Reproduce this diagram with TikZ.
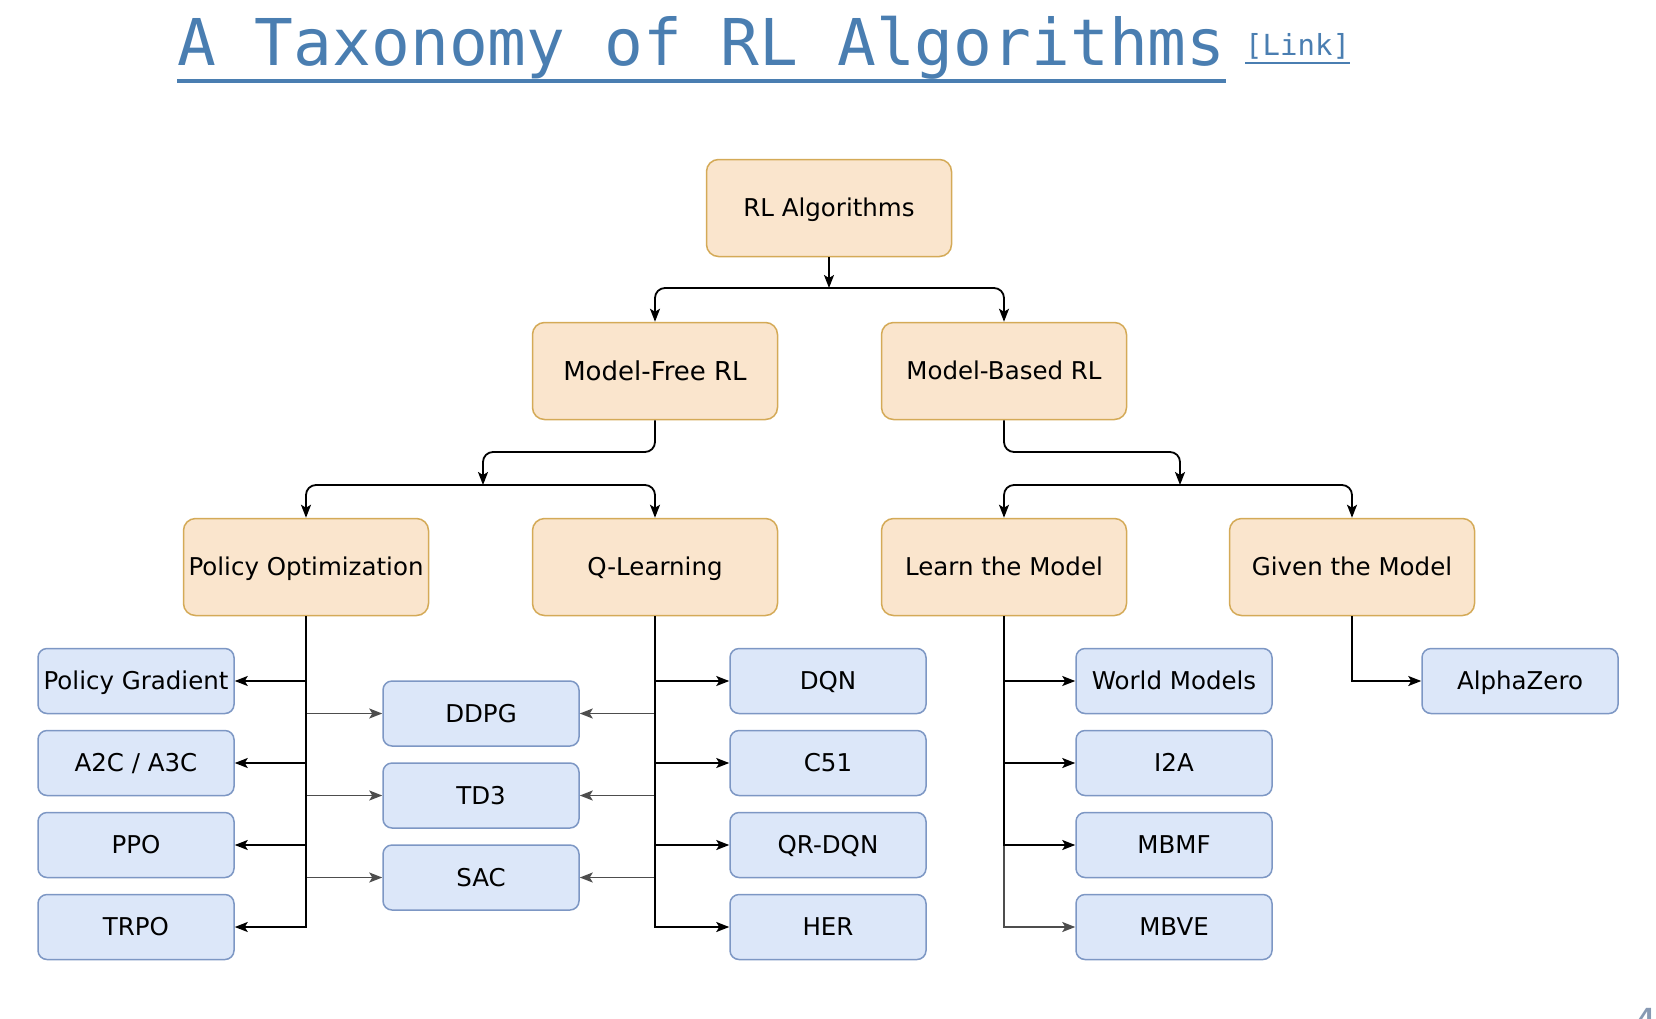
\documentclass[tikz,border=0pt]{standalone}
\usepackage{fontspec}
\setmainfont{DejaVu Sans}
\newfontfamily\titlefont{DejaVu Sans Mono}
\usetikzlibrary{arrows.meta}
\definecolor{ofill}{HTML}{FAE5CD}
\definecolor{odraw}{HTML}{D4AA57}
\definecolor{bfill}{HTML}{DCE7F9}
\definecolor{bdraw}{HTML}{7D97C4}
\definecolor{ttl}{HTML}{4A7EB1}
\definecolor{gline}{HTML}{4D4D4D}
\definecolor{pnum}{HTML}{8799B3}
\begin{document}
\begin{tikzpicture}[x=1pt,y=-1pt,
  lbl/.style={font=\fontsize{24.5}{29}\selectfont, text height=17.9pt, text depth=0pt, inner sep=0pt},
  obox/.style={lbl, draw=odraw, fill=ofill, line width=1.5pt, rounded corners=12pt,
    minimum width=245pt, minimum height=97pt},
  bbox/.style={lbl, draw=bdraw, fill=bfill, line width=1.5pt, rounded corners=9pt,
    minimum width=196pt, minimum height=65pt},
  arr/.style={line width=1.8pt, draw=black, -{Stealth[length=13pt,width=10pt,inset=3pt]}},
  garr/.style={arr, draw=gline, -{Stealth[length=13pt,width=10pt,inset=3pt,fill=gline]}},
  rc/.style={rounded corners=10pt}
]
\useasboundingbox (0,0) rectangle (1656,1018);

% title
\node[anchor=base west, inner sep=0pt, text=ttl, font=\titlefont\fontsize{64.5}{70}\selectfont] (title) at (177,65) {A Taxonomy of RL Algorithms};
\fill[ttl] ([yshift=-14pt]title.base west) rectangle ([yshift=-18.3pt]title.base east);
\node[anchor=base west, inner sep=0pt, text=ttl, font=\titlefont\fontsize{29}{32}\selectfont] (link) at (1245,55) {[Link]};
\fill[ttl] ([yshift=-7pt]link.base west) rectangle ([yshift=-9.3pt]link.base east);
\node[anchor=north west, inner sep=0pt, text=pnum, font=\fontsize{40}{40}\selectfont] (pn) at (1632,1008) {4};

% orange nodes
\node[obox] (rl) at (829,208) {RL Algorithms};
\node[obox, font=\fontsize{26}{31}\selectfont, text height=19pt] (mf) at (655,371) {Model-Free RL};
\node[obox] (mb) at (1004,371) {Model-Based RL};
\node[obox] (po) at (306,567) {Policy Optimization};
\node[obox] (ql) at (655,567) {Q-Learning};
\node[obox] (lm) at (1004,567) {Learn the Model};
\node[obox] (gm) at (1352,567) {Given the Model};

% blue nodes
\node[bbox] (pg) at (136,681) {Policy Gradient};
\node[bbox] (a2c) at (136,763) {A2C / A3C};
\node[bbox] (ppo) at (136,845) {PPO};
\node[bbox] (trpo) at (136,927) {TRPO};
\node[bbox] (ddpg) at (481,713.5) {DDPG};
\node[bbox] (td3) at (481,795.5) {TD3};
\node[bbox] (sac) at (481,877.5) {SAC};
\node[bbox] (dqn) at (828,681) {DQN};
\node[bbox] (c51) at (828,763) {C51};
\node[bbox] (qrdqn) at (828,845) {QR-DQN};
\node[bbox] (her) at (828,927) {HER};
\node[bbox] (wm) at (1174,681) {World Models};
\node[bbox] (i2a) at (1174,763) {I2A};
\node[bbox] (mbmf) at (1174,845) {MBMF};
\node[bbox] (mbve) at (1174,927) {MBVE};
\node[bbox] (az) at (1520,681) {AlphaZero};

% upper connectors
\coordinate (j1) at (829,288);
\coordinate (m2) at (483,452);
\coordinate (j2) at (483,485);
\coordinate (m3) at (1180,452);
\coordinate (j3) at (1180,485);
\draw[arr] (rl.south) -- (j1);
\draw[arr, rc] (j1) -| (mf.north);
\draw[arr, rc] (j1) -| (mb.north);
\draw[arr, rc] (mf.south) |- (m2) -- (j2);
\draw[arr, rc] (j2) -| (po.north);
\draw[arr, rc] (j2) -| (ql.north);
\draw[arr, rc] (mb.south) |- (m3) -- (j3);
\draw[arr, rc] (j3) -| (lm.north);
\draw[arr, rc] (j3) -| (gm.north);

% lower connectors (gray first)
\draw[garr] (po.south) |- (ddpg.west);
\draw[garr] (po.south) |- (td3.west);
\draw[garr] (po.south) |- (sac.west);
\draw[garr] (ql.south) |- (ddpg.east);
\draw[garr] (ql.south) |- (td3.east);
\draw[garr] (ql.south) |- (sac.east);
\draw[garr] (lm.south) |- (mbve.west);
\draw[arr] (po.south) |- (pg.east);
\draw[arr] (po.south) |- (a2c.east);
\draw[arr] (po.south) |- (ppo.east);
\draw[arr] (po.south) |- (trpo.east);
\draw[arr] (ql.south) |- (dqn.west);
\draw[arr] (ql.south) |- (c51.west);
\draw[arr] (ql.south) |- (qrdqn.west);
\draw[arr] (ql.south) |- (her.west);
\draw[arr] (lm.south) |- (wm.west);
\draw[arr] (lm.south) |- (i2a.west);
\draw[arr] (lm.south) |- (mbmf.west);
\draw[arr] (gm.south) |- (az.west);
\end{tikzpicture}
\end{document}
